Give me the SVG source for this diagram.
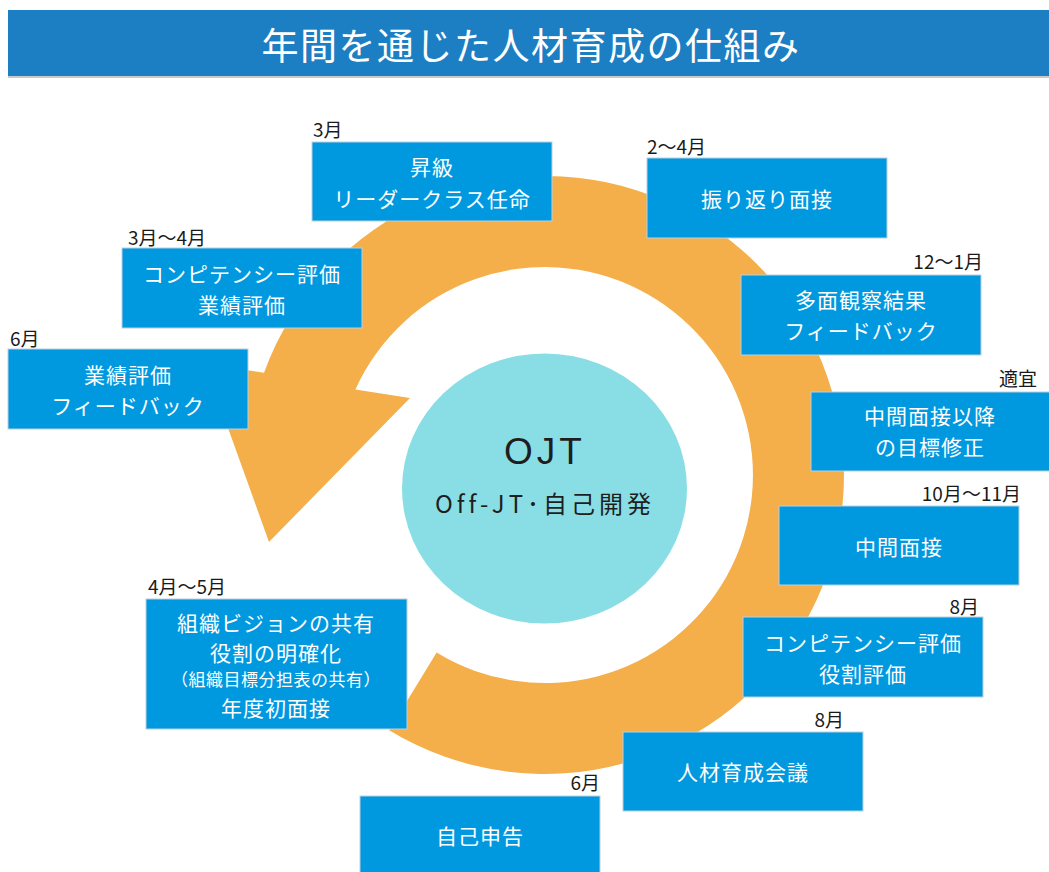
<svg xmlns="http://www.w3.org/2000/svg" width="1049" height="872" viewBox="0 0 1049 872">
<style>
.box{fill:#0099E0;stroke:#b9cfdf;stroke-width:1}
.bt{fill:#ffffff;font-family:"Noto Sans CJK JP","Noto Sans",sans-serif;font-size:21px;text-anchor:middle;dominant-baseline:central;letter-spacing:1px}
.sm{font-size:17px;letter-spacing:0.5px}
.lb{fill:#1a1a1a;font-family:"Noto Sans CJK JP","Noto Sans",sans-serif;font-size:19px;dominant-baseline:central}
.r{text-anchor:end}
</style>
<rect width="1049" height="872" fill="#ffffff"/>
<g id="header">
<rect x="8" y="11" width="1041" height="67" fill="#c9c9c9"/>
<rect x="8" y="10" width="1041" height="66" fill="#1C7FC4"/>
<text x="531" y="44" fill="#ffffff" font-family="'Noto Sans CJK JP','Noto Sans',sans-serif" font-size="37" text-anchor="middle" dominant-baseline="central" letter-spacing="1.5">年間を通じた人材育成の仕組み</text>
</g>
<g id="connectors">
<path d="M 436.6,652.6 A 208 208 0 1 0 355.4,389.4 L 410,398 L 269,542 L 205,364 L 264,372.7 A 299 299 0 1 1 389.2,730.2 Z" fill="#F4AF4A"/>
</g>
<g id="center">
<ellipse cx="544.5" cy="488.5" rx="142.5" ry="135" fill="#89DEE6"/>
<text x="545" y="451" fill="#1e1e1e" font-family="'Liberation Sans','Noto Sans',sans-serif" font-size="37" text-anchor="middle" dominant-baseline="central" letter-spacing="4">OJT</text>
<text x="545" y="502" fill="#1e1e1e" font-family="'Noto Sans CJK JP','Noto Sans',sans-serif" font-size="24" text-anchor="middle" dominant-baseline="central" letter-spacing="4">Off-JT･自己開発</text>
</g>
<g id="n1"><text class="lb" x="313" y="128">3月</text><rect class="box" x="312" y="142" width="240" height="79"/><text class="bt" x="432" y="166">昇級</text><text class="bt" x="432" y="198">リーダークラス任命</text></g>
<g id="n2"><text class="lb" x="647" y="145">2～4月</text><rect class="box" x="647" y="158" width="240" height="80"/><text class="bt" x="767" y="198">振り返り面接</text></g>
<g id="n3"><text class="lb r" x="983" y="260">12～1月</text><rect class="box" x="741" y="275" width="240" height="80"/><text class="bt" x="861" y="299">多面観察結果</text><text class="bt" x="861" y="330">フィードバック</text></g>
<g id="n4"><text class="lb r" x="1037" y="377">適宜</text><rect class="box" x="811" y="392" width="240" height="79"/><text class="bt" x="930" y="415">中間面接以降</text><text class="bt" x="930" y="446">の目標修正</text></g>
<g id="n5"><text class="lb r" x="1021" y="492">10月～11月</text><rect class="box" x="779" y="506" width="240" height="79"/><text class="bt" x="899" y="546">中間面接</text></g>
<g id="n6"><text class="lb r" x="979" y="605">8月</text><rect class="box" x="743" y="617" width="240" height="80"/><text class="bt" x="863" y="642">コンピテンシー評価</text><text class="bt" x="863" y="673">役割評価</text></g>
<g id="n7"><text class="lb r" x="844" y="718">8月</text><rect class="box" x="623" y="732" width="240" height="79"/><text class="bt" x="743" y="771">人材育成会議</text></g>
<g id="n8"><text class="lb r" x="600" y="781">6月</text><rect class="box" x="360" y="796" width="240" height="80"/><text class="bt" x="480" y="835">自己申告</text></g>
<g id="n9"><text class="lb" x="148" y="585">4月～5月</text><rect class="box" x="146" y="599" width="261" height="130"/><text class="bt" x="276" y="622">組織ビジョンの共有</text><text class="bt" x="276" y="652">役割の明確化</text><text class="bt sm" x="276" y="678">（組織目標分担表の共有）</text><text class="bt" x="276" y="707">年度初面接</text></g>
<g id="n10"><text class="lb" x="10" y="337">6月</text><rect class="box" x="8" y="349" width="240" height="80"/><text class="bt" x="128" y="374">業績評価</text><text class="bt" x="128" y="405">フィードバック</text></g>
<g id="n11"><text class="lb" x="128" y="236">3月～4月</text><rect class="box" x="122" y="248" width="240" height="80"/><text class="bt" x="242" y="273">コンピテンシー評価</text><text class="bt" x="242" y="304">業績評価</text></g>
</svg>
